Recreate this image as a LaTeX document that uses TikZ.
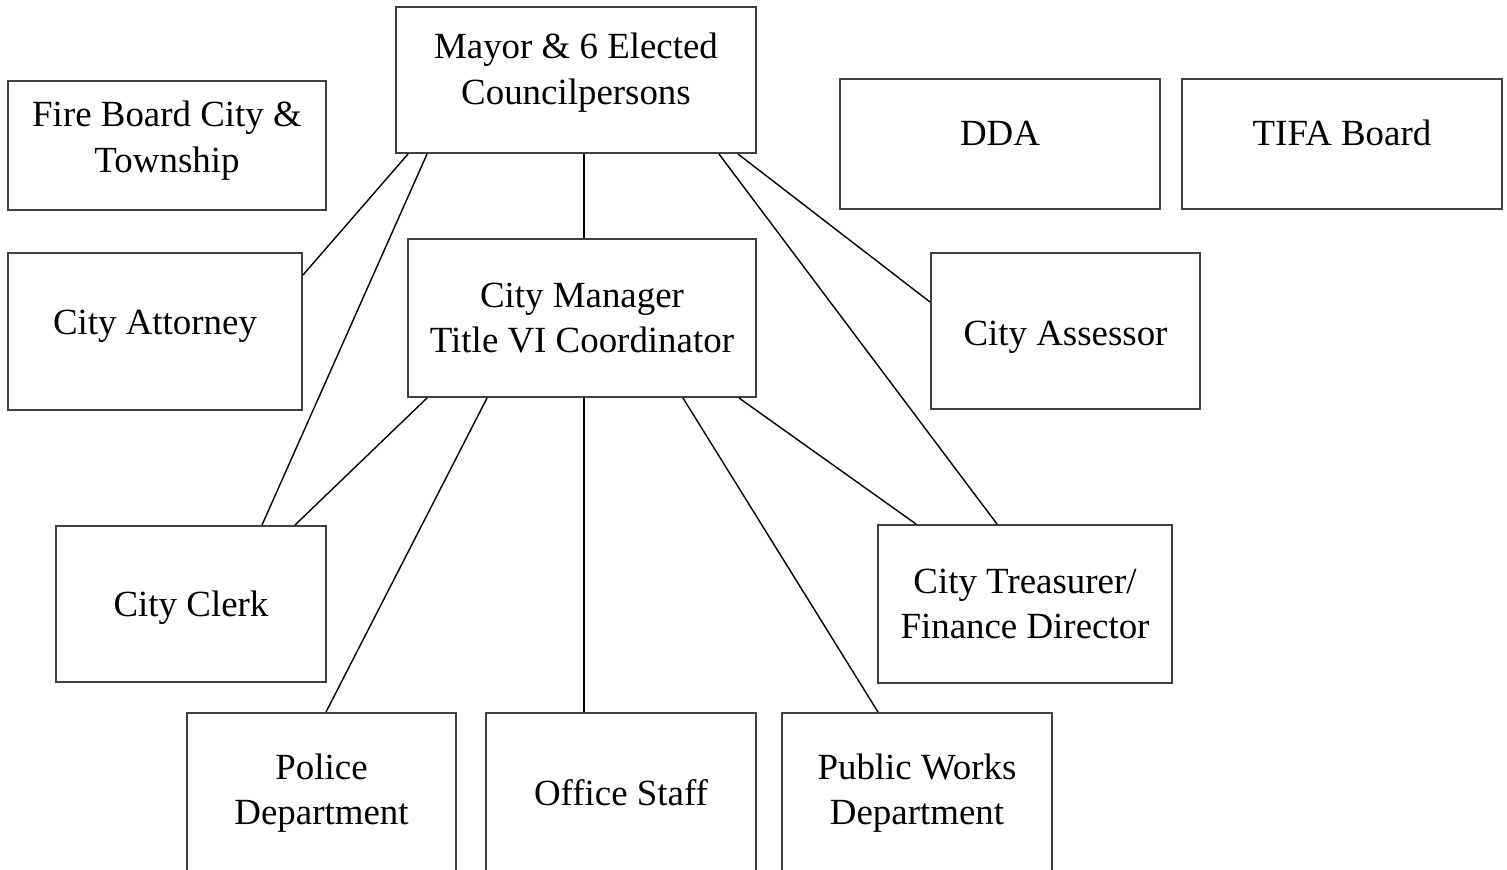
\documentclass[tikz,border=0pt]{standalone}
\usepackage{fontspec}
\setmainfont{Liberation Serif}
\usepackage{tikz}

\begin{document}
\begin{tikzpicture}[x=0.02cm,y=-0.02cm,
    orgbox/.style={rectangle,draw=black!75,line width=1.1pt,align=center,
        font=\fontsize{21}{26}\selectfont,inner sep=0pt},
    link/.style={black,line width=0.8pt}]

\useasboundingbox (0,0) rectangle (1507,869);

% top row
    \node[orgbox,minimum width=7.2cm,minimum height=2.92cm,text depth=0.44cm] (mayor) at (576,80) {Mayor \& 6 Elected\\Councilpersons};
    \node[orgbox,minimum width=6.36cm,minimum height=2.58cm,text depth=0.34cm] (fire) at (167,145.5) {Fire Board City \&\\Township};
    \node[orgbox,minimum width=6.4cm,minimum height=2.6cm,text depth=0.44cm] (dda) at (1000,144) {DDA};
    \node[orgbox,minimum width=6.4cm,minimum height=2.6cm,text depth=0.44cm] (tifa) at (1342,144) {TIFA Board};

% second row
    \node[orgbox,minimum width=5.88cm,minimum height=3.14cm,text depth=0.38cm] (attorney) at (155,331.5) {City Attorney};
    \node[orgbox,minimum width=6.96cm,minimum height=3.16cm] (manager) at (582,318) {City Manager\\Title VI Coordinator};
    \node[orgbox,minimum width=5.38cm,minimum height=3.12cm,text depth=0cm,text height=0.56cm] (assessor) at (1065.5,331) {City Assessor};

% third row
    \node[orgbox,minimum width=5.4cm,minimum height=3.12cm,text depth=0cm] (clerk) at (191,604) {City Clerk};
    \node[orgbox,minimum width=5.88cm,minimum height=3.16cm] (treasurer) at (1025,604) {City Treasurer/\\Finance Director};

% bottom row (cut by the page edge)
    \node[orgbox,minimum width=5.38cm,minimum height=3.2cm] (police) at (321.5,793) {Police\\Department};
    \node[orgbox,minimum width=5.4cm,minimum height=3.2cm] (office) at (621,793) {Office Staff};
    \node[orgbox,minimum width=5.4cm,minimum height=3.2cm] (works) at (917,793) {Public Works\\Department};

% council
\draw[link] ([xshift=0.04cm]manager.north |- mayor.south) -- ([xshift=0.04cm]manager.north); %manager
\draw[link] ([xshift=0.26cm]mayor.south west) -- ([yshift=-0.46cm]attorney.north east); %attorney
\draw[link] ([xshift=0.64cm]mayor.south west) -- ([xshift=1.42cm]clerk.north); %clerk
\draw[link] ([xshift=-0.76cm]mayor.south east) -- ([xshift=-0.56cm]treasurer.north); %treasurer
\draw[link] ([xshift=-0.38cm]mayor.south east) -- ([yshift=-1cm]assessor.north west); %assessor

% manager
\draw[link] ([xshift=0.4cm]manager.south west) -- ([xshift=-0.64cm]clerk.north east);
\draw[link] ([xshift=1.6cm]manager.south west) -- ([xshift=0.09cm]police.north);
\draw[link] ([xshift=0.04cm]manager.south) -- ([xshift=0.04cm]manager.south |- office.north);
\draw[link] ([xshift=-1.48cm]manager.south east) -- ([xshift=-0.78cm]works.north);
\draw[link] ([xshift=-0.36cm]manager.south east) -- ([xshift=0.78cm]treasurer.north west);

\end{tikzpicture}
\end{document}
